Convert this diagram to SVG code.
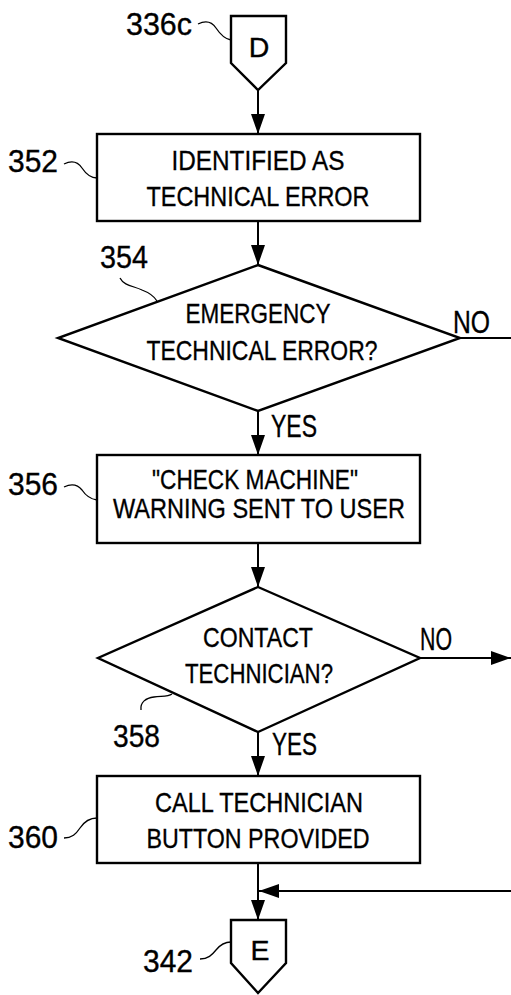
<svg xmlns="http://www.w3.org/2000/svg" width="511" height="995" viewBox="0 0 511 995">
<style>
.shape{fill:#fff;stroke:#000;stroke-width:2.4;stroke-linejoin:miter}
.t{font-family:"Liberation Sans",Arial,sans-serif;font-size:28.5px;fill:#000;stroke:#000;stroke-width:0.35;text-anchor:middle}
.lbl{font-family:"Liberation Sans",Arial,sans-serif;font-size:31px;fill:#000;stroke:#000;stroke-width:0.35}
.lead{fill:none;stroke:#000;stroke-width:1.3}
.conn{fill:none;stroke:#000;stroke-width:2}
</style>
<defs>
<marker id="ah" markerWidth="20" markerHeight="14" refX="20" refY="7" orient="auto" markerUnits="userSpaceOnUse"><path d="M0,0 L20,7 L0,14 z" fill="#000"/></marker>
</defs>
<rect width="511" height="995" fill="#fff"/>
<g id="connectors">
<line class="conn" x1="258" y1="90" x2="258" y2="134" marker-end="url(#ah)"/>
<line class="conn" x1="258" y1="221" x2="258" y2="265" marker-end="url(#ah)"/>
<line class="conn" x1="460" y1="338" x2="511" y2="338"/>
<line class="conn" x1="258" y1="411" x2="258" y2="455" marker-end="url(#ah)"/>
<line class="conn" x1="258" y1="543" x2="258" y2="587" marker-end="url(#ah)"/>
<line class="conn" x1="420" y1="658" x2="511" y2="658" marker-end="url(#ah)"/>
<line class="conn" x1="258" y1="732" x2="258" y2="776" marker-end="url(#ah)"/>
<line class="conn" x1="258" y1="863" x2="258" y2="920" marker-end="url(#ah)"/>
<line class="conn" x1="511" y1="891" x2="259" y2="891" marker-end="url(#ah)"/>
<text class="lbl" x="453" y="333" font-size="28.5" textLength="37" lengthAdjust="spacingAndGlyphs">NO</text>
<text class="lbl" x="271" y="437" font-size="28.5" textLength="46" lengthAdjust="spacingAndGlyphs">YES</text>
<text class="lbl" x="420" y="650" font-size="26" textLength="32" lengthAdjust="spacingAndGlyphs">NO</text>
<text class="lbl" x="272" y="755" font-size="26" textLength="45" lengthAdjust="spacingAndGlyphs">YES</text>
</g>
<g id="n336c">
<path class="shape" d="M231,16 L286,16 L286,63 L258,90 L231,63 Z"/>
<text class="t" x="259" y="57" font-size="28">D</text>
<text class="lbl" x="126" y="35" textLength="66" lengthAdjust="spacingAndGlyphs">336c</text>
<path class="lead" d="M198,24 C206,20 212,22 216,28 C220,34 224,39 231,40"/>
</g>
<g id="n352">
<rect class="shape" x="97" y="134" width="323" height="87"/>
<text class="t" x="258" y="170" textLength="173" lengthAdjust="spacingAndGlyphs">IDENTIFIED AS</text>
<text class="t" x="258" y="206" textLength="223" lengthAdjust="spacingAndGlyphs">TECHNICAL ERROR</text>
<text class="lbl" x="8" y="172" textLength="50" lengthAdjust="spacingAndGlyphs">352</text>
<path class="lead" d="M64,164 C72,160 78,162 82,168 C86,174 90,178 97,178"/>
</g>
<g id="n354">
<path class="shape" d="M258,265 L460,338 L258,411 L58,338 Z"/>
<text class="t" x="258" y="323" textLength="145" lengthAdjust="spacingAndGlyphs">EMERGENCY</text>
<text class="t" x="262" y="360" textLength="231" lengthAdjust="spacingAndGlyphs">TECHNICAL ERROR?</text>
<text class="lbl" x="100" y="268" textLength="48" lengthAdjust="spacingAndGlyphs">354</text>
<path class="lead" d="M120,278 C124,286 134,286 142,290 C150,293 154,296 157,301"/>
</g>
<g id="n356">
<rect class="shape" x="97" y="455" width="323" height="88"/>
<text class="t" x="255" y="489" textLength="206" lengthAdjust="spacingAndGlyphs">"CHECK MACHINE"</text>
<text class="t" x="259" y="518" textLength="292" lengthAdjust="spacingAndGlyphs">WARNING SENT TO USER</text>
<text class="lbl" x="8" y="495" textLength="50" lengthAdjust="spacingAndGlyphs">356</text>
<path class="lead" d="M64,487 C72,483 78,485 82,490 C86,496 90,499 97,500"/>
</g>
<g id="n358">
<path class="shape" d="M258,587 L420,658 L258,732 L98,658 Z"/>
<text class="t" x="258" y="647" textLength="110" lengthAdjust="spacingAndGlyphs">CONTACT</text>
<text class="t" x="259" y="683" textLength="148" lengthAdjust="spacingAndGlyphs">TECHNICIAN?</text>
<text class="lbl" x="113" y="747" textLength="47" lengthAdjust="spacingAndGlyphs">358</text>
<path class="lead" d="M141,710 C140,702 146,698 154,697 C162,696 168,697 172,694"/>
</g>
<g id="n360">
<rect class="shape" x="97" y="776" width="323" height="87"/>
<text class="t" x="259" y="812" textLength="208" lengthAdjust="spacingAndGlyphs">CALL TECHNICIAN</text>
<text class="t" x="258" y="848" textLength="223" lengthAdjust="spacingAndGlyphs">BUTTON PROVIDED</text>
<text class="lbl" x="8" y="848" textLength="50" lengthAdjust="spacingAndGlyphs">360</text>
<path class="lead" d="M64,838 C72,838 76,834 80,828 C84,822 90,818 97,818"/>
</g>
<g id="n342">
<path class="shape" d="M231,920 L286,920 L286,963 L258,993 L231,963 Z"/>
<text class="t" x="260" y="960" font-size="27">E</text>
<text class="lbl" x="143" y="972" textLength="50" lengthAdjust="spacingAndGlyphs">342</text>
<path class="lead" d="M200,959 C208,959 212,955 216,950 C220,945 225,942 231,942"/>
</g>
</svg>
